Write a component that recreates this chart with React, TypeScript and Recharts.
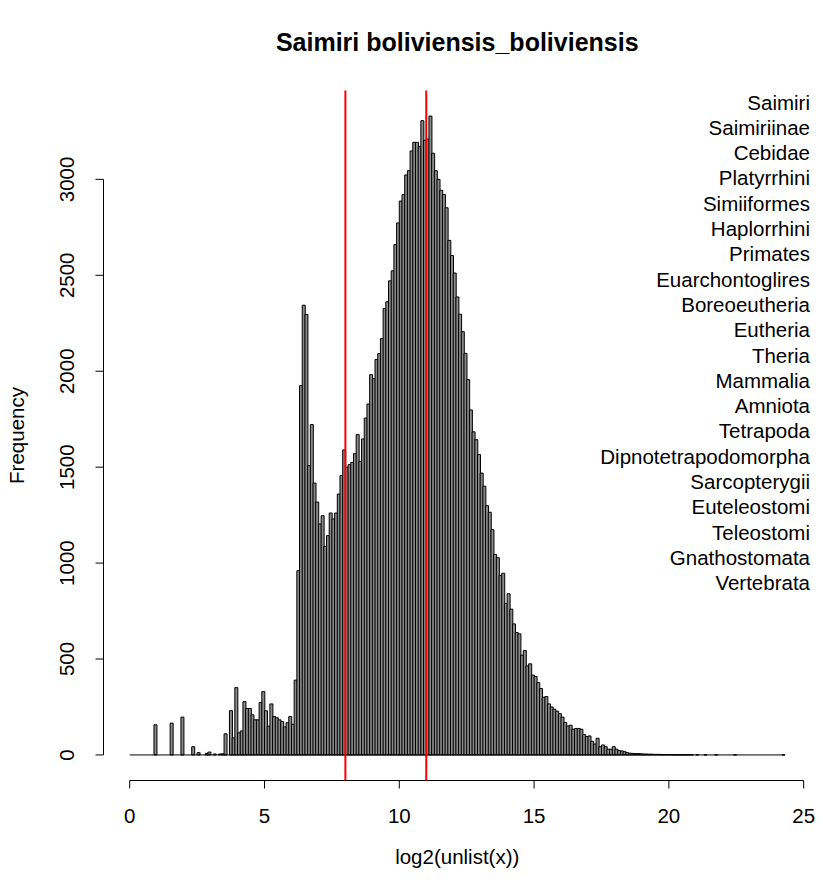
import { ComposedChart, Bar, XAxis, YAxis, ReferenceLine } from "recharts";

// histogram of log2(unlist(x)), bins of width 0.1 starting at 0
const binStart = 0;
const binWidth = 0.1;
const counts = [
  0, 0, 0, 0, 0, 0, 0, 0, 0, 157,
  0, 0, 0, 0, 0, 166, 0, 0, 0, 197,
  0, 0, 0, 43, 0, 12, 0, 0, 8, 15,
  0, 5, 0, 5, 6, 110, 0, 231, 89, 351,
  115, 125, 278, 242, 242, 209, 183, 183, 273, 330,
  230, 150, 266, 200, 194, 183, 174, 146, 168, 200,
  160, 390, 960, 1925, 2344, 2296, 1508, 1722, 1417, 1318,
  1204, 1247, 1087, 1143, 1261, 1230, 1261, 1360, 1456, 1590,
  1500, 1513, 1525, 1570, 1670, 1530, 1647, 1756, 1829, 1982,
  1961, 2061, 2092, 2170, 2327, 2362, 2471, 2523, 2660, 2773,
  2887, 2921, 3023, 3045, 3148, 3193, 3193, 3170, 3306, 3204,
  3210, 3330, 3136, 3045, 3000, 2943, 2921, 2852, 2682, 2603,
  2512, 2387, 2297, 2206, 2093, 1956, 1798, 1684, 1643, 1566,
  1469, 1401, 1299, 1265, 1174, 1045, 1028, 935, 947, 790,
  840, 760, 683, 638, 631, 520, 544, 464, 475, 416,
  409, 377, 346, 301, 304, 266, 250, 238, 228, 215,
  197, 169, 151, 155, 134, 138, 138, 134, 106, 96,
  99, 71, 57, 87, 43, 52, 43, 30, 30, 43,
  30, 23, 21, 17, 12, 9, 8, 7, 7, 6,
  5, 5, 4, 4, 3, 3, 3, 2, 2, 2,
  2, 1, 1, 1, 1, 1, 1, 1, 1, 0,
  1, 0, 0, 1, 0, 0, 0, 1, 0, 0,
  0, 0, 0, 0, 1, 0, 0, 0, 0, 0,
  0, 0, 0, 0, 0, 0, 0, 0, 0, 0,
  0, 0, 1,
];

const xTicks = [0, 5, 10, 15, 20, 25];
const yTicks = [0, 500, 1000, 1500, 2000, 2500, 3000];
const cutoffs = [8, 11];
const lineage = [
  "Saimiri", "Saimiriinae", "Cebidae", "Platyrrhini", "Simiiformes",
  "Haplorrhini", "Primates", "Euarchontoglires", "Boreoeutheria", "Eutheria",
  "Theria", "Mammalia", "Amniota", "Tetrapoda", "Dipnotetrapodomorpha",
  "Sarcopterygii", "Euteleostomi", "Teleostomi", "Gnathostomata", "Vertebrata",
];

const title = "Saimiri boliviensis_boliviensis";
const xLabel = "log2(unlist(x))";
const yLabel = "Frequency";

const W = 823;
const H = 887;
const FONT = "'Liberation Sans', Arial, Helvetica, sans-serif";
const FS = 20.5;

const xMax = binStart + counts.length * binWidth;
const xPad = (xMax - binStart) * 0.04;
const yMaxCount = Math.max(...counts);
const yPad = yMaxCount * 0.04;

const data = counts.map((c, i) => ({
  bin: i,
  mid: binStart + (i + 0.5) * binWidth,
  count: c,
}));

// plot region in pixels
const PL = 103.5;
const PR = 811;
const PT = 90.5;
const PB = 780.5;
const Y_AXIS_W = 60;
const X_AXIS_H = 50;
const catPad = ((PR - PL) * xPad) / (xMax - binStart + 2 * xPad);
// same linear map as the y axis, used for the short R-style axis line
const yPix = (v: number) => PT + ((yMaxCount + yPad - v) / (yMaxCount + 2 * yPad)) * (PB - PT);

const XTick = ({ x, payload }: any) => (
  <text x={x} y={815} textAnchor="middle" dominantBaseline="central" fontSize={FS} fontFamily={FONT} fill="#000">
    {payload.value}
  </text>
);

const YTick = ({ y, payload }: any) => (
  <text
    x={67}
    y={y}
    transform={`rotate(-90 67 ${y})`}
    textAnchor="middle"
    dominantBaseline="central"
    fontSize={FS}
    fontFamily={FONT}
    fill="#000"
  >
    {payload.value}
  </text>
);

export default function App() {
  return (
    <div style={{ position: "absolute", left: 0, top: 0, width: W, height: H, background: "#fff" }}>
      <ComposedChart
        width={W}
        height={H}
        data={data}
        margin={{ top: PT, right: W - PR, left: PL - Y_AXIS_W, bottom: H - PB - X_AXIS_H }}
        barCategoryGap={0}
        barGap={0}
      >
        <XAxis xAxisId="cat" dataKey="bin" type="category" hide height={0} padding={{ left: catPad, right: catPad }} />
        <XAxis
          xAxisId="num"
          dataKey="mid"
          type="number"
          domain={[binStart - xPad, xMax + xPad]}
          allowDataOverflow
          ticks={xTicks}
          tick={<XTick />}
          tickSize={8}
          tickLine={{ stroke: "#000" }}
          axisLine={false}
          height={X_AXIS_H}
        />
        <YAxis
          type="number"
          domain={[-yPad, yMaxCount + yPad]}
          allowDataOverflow
          ticks={yTicks}
          tick={<YTick />}
          tickSize={8}
          tickLine={{ stroke: "#000" }}
          axisLine={false}
          width={Y_AXIS_W}
        />
        <Bar
          xAxisId="cat"
          dataKey="count"
          fill="#8a8a8a"
          stroke="#000"
          strokeWidth={1}
          isAnimationActive={false}
        />
        <ReferenceLine
          xAxisId="num"
          segment={[{ x: binStart, y: 0 }, { x: xMax, y: 0 }]}
          stroke="#000"
          strokeWidth={1}
          ifOverflow="visible"
        />
        <ReferenceLine
          xAxisId="num"
          segment={[{ x: xTicks[0], y: -yPad }, { x: xTicks[xTicks.length - 1], y: -yPad }]}
          stroke="#000"
          strokeWidth={1}
          ifOverflow="visible"
        />
        {cutoffs.map((c) => (
          <ReferenceLine key={c} xAxisId="num" x={c} stroke="#ff0000" strokeWidth={2} />
        ))}
      </ComposedChart>
      <svg
        width={W}
        height={H}
        style={{ position: "absolute", left: 0, top: 0, pointerEvents: "none" }}
        fontFamily={FONT}
      >
        <line
          x1={PL}
          x2={PL}
          y1={yPix(yTicks[0])}
          y2={yPix(yTicks[yTicks.length - 1])}
          stroke="#000"
          strokeWidth={1}
        />
        <text x={(PL + PR) / 2} y={42} textAnchor="middle" dominantBaseline="central" fontSize={25} fontWeight="bold">
          {title}
        </text>
        <text x={(PL + PR) / 2} y={856} textAnchor="middle" dominantBaseline="central" fontSize={FS}>
          {xLabel}
        </text>
        <text x={16} y={(PT + PB) / 2} transform={`rotate(-90 16 ${(PT + PB) / 2})`} textAnchor="middle" dominantBaseline="central" fontSize={FS}>
          {yLabel}
        </text>
        {lineage.map((name, i) => (
          <text key={name} x={810} y={102 + i * 25.3} textAnchor="end" dominantBaseline="central" fontSize={FS}>
            {name}
          </text>
        ))}
      </svg>
    </div>
  );
}
